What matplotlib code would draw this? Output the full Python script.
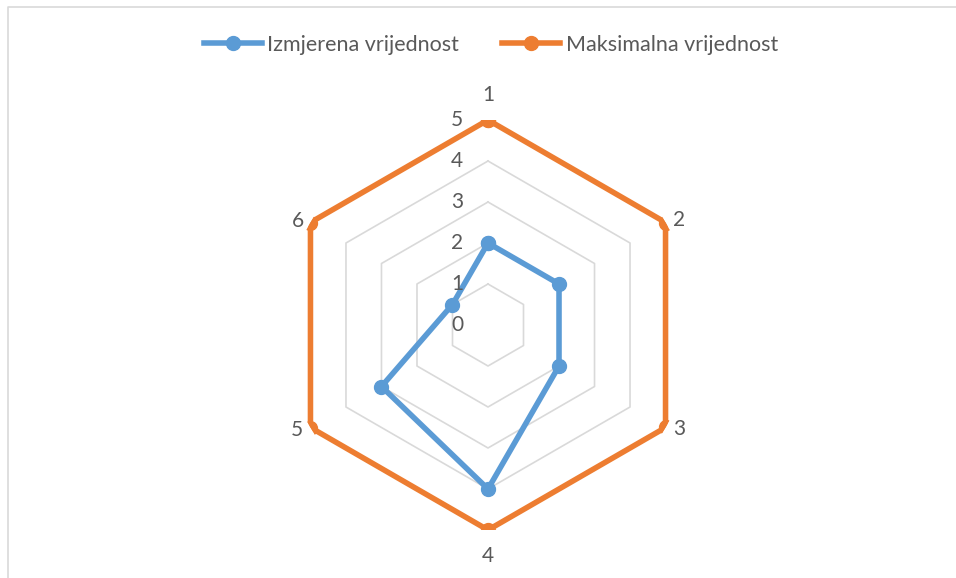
import numpy as np
import matplotlib
matplotlib.use("Agg")
import matplotlib.pyplot as plt
from matplotlib.lines import Line2D

categories = ["1", "2", "3", "4", "5", "6"]
measured = [2, 2, 2, 4, 3, 1]
maximum = [5, 5, 5, 5, 5, 5]
ring_values = [0, 1, 2, 3, 4, 5]
series_names = ["Izmjerena vrijednost", "Maksimalna vrijednost"]

BLUE = "#5B9BD5"
ORANGE = "#ED7D31"
GRID = "#D9D9D9"
TEXT = "#595959"

plt.rcParams['font.family'] = ['Lato', 'DejaVu Sans']

W, H = 956, 578
fig = plt.figure(figsize=(W / 100, H / 100), dpi=100)
fig.patch.set_facecolor("white")

# chart border (top and left visible)
bx, by = 7.5 / W, 1 - 6.5 / H
fig.add_artist(Line2D([bx, bx, 1.0], [0.0, by, by], transform=fig.transFigure,
                      color="#D9D9D9", linewidth=1.2))

cx, cy, R = 488, 325, 205
ax = fig.add_axes([(cx - R) / W, 1 - (cy + R) / H, 2 * R / W, 2 * R / H],
                  projection="polar")
ax.set_theta_zero_location("N")
ax.set_theta_direction(-1)
ax.set_ylim(0, 5)
ax.grid(False)
ax.spines["polar"].set_visible(False)
ax.set_xticks([])
ax.set_yticks([])
ax.patch.set_alpha(0)

n = len(categories)
theta = np.linspace(0, 2 * np.pi, n, endpoint=False)
theta_c = np.append(theta, theta[0])

# hexagonal grid rings
for v in ring_values[1:]:
    ax.plot(theta_c, [v] * (n + 1), color=GRID, lw=1.2, zorder=1)

def closed(vals):
    return list(vals) + [vals[0]]

ax.plot(theta_c, closed(measured), color=BLUE, lw=4, marker="o",
        markersize=10, label=series_names[0], zorder=3, solid_joinstyle="round")
ax.plot(theta_c, closed(maximum), color=ORANGE, lw=4, marker="o",
        markersize=10, label=series_names[1], zorder=4, solid_joinstyle="round")

# radial axis labels
for v in ring_values:
    ax.annotate(str(v), xy=(0, v), xytext=(-31, 0), textcoords="offset pixels",
                ha="center", va="center", fontsize=15, color=TEXT)

# category labels
offsets = [(0, 25), (14, 2), (14, -2), (0, -26), (-14, -2), (-13, 2)]
for t, lab, off in zip(theta, categories, offsets):
    ax.annotate(lab, xy=(t, 5), xytext=off, textcoords="offset pixels",
                ha="center", va="center", fontsize=15, color=TEXT)

handles, labels = ax.get_legend_handles_labels()
leg = fig.legend(handles, labels, loc="center", bbox_to_anchor=(491 / W, 1 - 45 / H),
                 ncol=2, frameon=False, fontsize=15.5, handlelength=2.7,
                 columnspacing=2.0, handletextpad=0.25, labelcolor=TEXT)

fig.savefig("out.png", dpi=100, facecolor="white")
